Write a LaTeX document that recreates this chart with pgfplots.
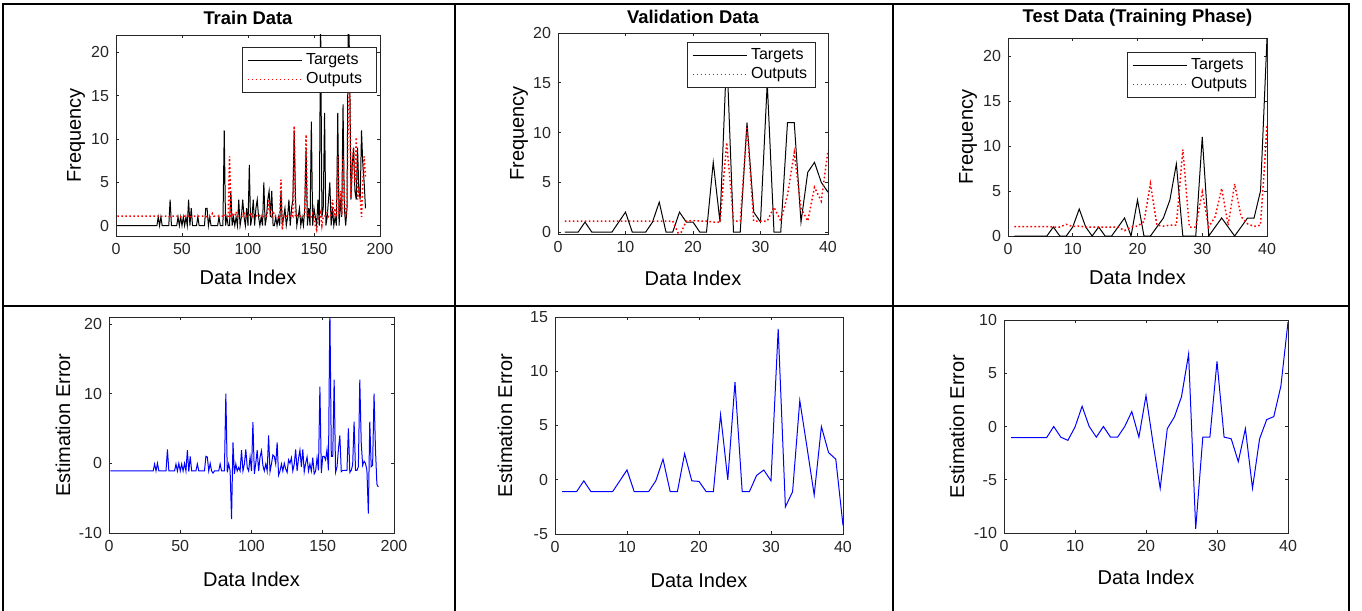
\documentclass[border=0pt]{standalone}
\usepackage{fontspec}
\setmainfont{Liberation Sans}
\usepackage{pgfplots}
\pgfplotsset{compat=1.18}
\usepackage{pgfplotstable}

\definecolor{axgray}{HTML}{262626}

% train set: index, target, output, error
\pgfplotstableread{
i T O E
1 0 1.1 -1.1
2 0 1.1 -1.1
3 0 1.1 -1.1
4 0 1.1 -1.1
5 0 1.1 -1.1
6 0 1.1 -1.1
7 0 1.1 -1.1
8 0 1.1 -1.1
9 0 1.1 -1.1
10 0 1.1 -1.1
11 0 1.1 -1.1
12 0 1.1 -1.1
13 0 1.1 -1.1
14 0 1.1 -1.1
15 0 1.1 -1.1
16 0 1.1 -1.1
17 0 1.1 -1.1
18 0 1.1 -1.1
19 0 1.1 -1.1
20 0 1.1 -1.1
21 0 1.1 -1.1
22 0 1.1 -1.1
23 0 1.1 -1.1
24 0 1.1 -1.1
25 0 1.1 -1.1
26 0 1.1 -1.1
27 0 1.1 -1.1
28 0 1.1 -1.1
29 0 1.1 -1.1
30 0 1.1 -1.1
31 0 1.1 -1.1
32 1 1.1 -0.1
33 0 1.1 -1.1
34 1 1.0 0
35 0 1.1 -1.1
36 0 1.1 -1.1
37 0 1.1 -1.1
38 0 1.1 -1.1
39 0 1.1 -1.1
40 0 1.1 -1.1
41 3 1.0 2.0
42 0 1.1 -1.1
43 0 1.1 -1.1
44 0 1.1 -1.1
45 0 1.1 -1.1
46 0 1.1 -1.1
47 1 1.1 -0.1
48 0 1.1 -1.1
49 1 1.0 0
50 0 1.1 -1.1
51 1 1.1 -0.1
52 0 1.1 -1.1
53 1 1.0 0
54 0 1.1 -1.1
55 3 1.1 1.9
56 0 1.2 -1.2
57 2 1.0 1.0
58 0 1.1 -1.1
59 0 1.1 -1.1
60 0 1.1 -1.1
61 0 1.1 -1.1
62 1 1.1 -0.1
63 0 1.1 -1.1
64 0 1.1 -1.1
65 0 1.1 -1.1
66 0 1.1 -1.1
67 0 1.1 -1.1
68 2 1.0 1.0
69 2 1.1 0.9
70 0 1.1 -1.1
71 1 1.0 0
72 0 1.1 -1.1
73 0 1.4 -1.4
74 0 1.1 -1.1
75 0 1.1 -1.1
76 0 1.1 -1.1
77 0 1.1 -1.1
78 1 1.1 -0.1
79 0 1.1 -1.1
80 0 1.1 -1.1
81 0 1.1 -1.1
82 11 1.0 10.0
83 0 1.3 -1.3
84 1 1.1 -0.1
85 0 1.1 -1.1
86 0 8.0 -8.0
87 4 1.0 3.0
88 0 1.5 -1.5
89 1 1.1 -0.1
90 0 1.1 -1.1
91 1 1.6 -0.6
92 0 1.1 -1.1
93 3 1.1 1.9
94 0 1.1 -1.1
95 1 1.1 -0.1
96 3 1.0 2.0
97 1 1.6 -0.6
98 0 1.1 -1.1
99 2 1.1 0.9
100 0 1.1 -1.1
101 7 1.1 5.9
102 0 1.5 -1.5
103 1 1.0 0
104 3 1.1 1.9
105 0 1.1 -1.1
106 2 1.1 0.9
107 3 1.2 1.8
108 1 1.3 -0.3
109 0 1.1 -1.1
110 1 1.1 -0.1
111 0 1.1 -1.1
112 5 1.0 4.0
113 0 1.2 -1.2
114 1 1.1 -0.1
115 3 1.8 1.2
116 4 3.0 1.0
117 1 1.1 -0.1
118 4 1.0 3.0
119 0 1.7 -1.7
120 0 1.1 -1.1
121 1 1.1 -0.1
122 0 1.1 -1.1
123 1 1.0 0
124 0 0.8 -0.8
125 4 5.3 -1.3
126 0 -0.5 0.5
127 1 1.0 0
128 2 1.2 0.8
129 0 1.1 -1.1
130 1 1.1 -0.1
131 3 1.0 2.0
132 0 1.1 -1.1
133 2 1.3 0.7
134 3 1.1 1.9
135 11 11.5 -0.5
136 3 1.0 2.0
137 0 1.2 -1.2
138 1 1.0 0
139 2 1.1 0.9
140 0 1.1 -1.1
141 1 1.1 -0.1
142 0 1.1 -1.1
143 2 1.2 0.8
144 9 10.5 -1.5
145 0 1.1 -1.1
146 2 1.2 0.8
147 0 1.0 -1.0
148 12 1.0 11.0
149 0 1.4 -1.4
150 2 1.0 1.0
151 1 0.0 1.0
152 0 -0.5 0.5
153 3 1.0 2.0
154 0 1.0 -1.0
155 24 1.5 22.5
156 1 0.0 1.0
157 2 1.0 1.0
158 13 1.0 12.0
159 0 1.3 -1.3
160 1 1.5 -0.5
161 3 1.0 2.0
162 5 1.0 4.0
163 0 1.2 -1.2
164 2 3.0 -1.0
165 0 1.0 -1.0
166 1 2.0 -1.0
167 0 1.0 -1.0
168 13 8.0 5.0
169 0 1.3 -1.3
170 3 4.0 -1.0
171 1 1.2 -0.2
172 14 8.0 6.0
173 2 3.0 -1.0
174 0 1.0 -1.0
175 2 2.5 -0.5
176 25 13.0 12.0
177 19 16.0 3.0
178 3 3.3 -0.3
179 7 6.7 0.3
180 9 9.0 0
181 4 5.0 -1.0
182 3 10.2 -7.2
183 9 3.0 6.0
184 4 4.5 -0.5
185 3 3.3 -0.3
186 11 1.0 10.0
187 7 5.0 2.0
188 5 8.0 -3.0
189 2 5.4 -3.4
}\traindata

\pgfplotstableread{
i T O E
1 0 1.1 -1.1
2 0 1.1 -1.1
3 0 1.1 -1.1
4 1 1.1 -0.1
5 0 1.1 -1.1
6 0 1.1 -1.1
7 0 1.1 -1.1
8 0 1.1 -1.1
9 1 1.1 -0.1
10 2 1.1 0.9
11 0 1.1 -1.1
12 0 1.1 -1.1
13 0 1.1 -1.1
14 1 1.1 -0.1
15 3 1.1 1.9
16 0 1.1 -1.1
17 0 1.1 -1.1
18 2 -0.4 2.4
19 1 1.1 -0.1
20 1 1.15 -0.15
21 0 1.1 -1.1
22 0 1.1 -1.1
23 7 1.0 6.0
24 1 1.0 0.0
25 18 9.0 9.0
26 0 1.1 -1.1
27 0 1.1 -1.1
28 11 10.6 0.4
29 2 1.1 0.9
30 1 1.1 -0.1
31 15 1.1 13.9
32 0 2.5 -2.5
33 0 1.1 -1.1
34 11 3.7 7.3
35 11 8.0 3.0
36 1 2.4 -1.4
37 6 1.1 4.9
38 7 4.5 2.5
39 5 3.1 1.9
40 4 8.2 -4.2
}\valdata

\pgfplotstableread{
i T O E
1 0 1.05 -1.05
2 0 1.05 -1.05
3 0 1.05 -1.05
4 0 1.05 -1.05
5 0 1.05 -1.05
6 0 1.05 -1.05
7 1 1.0 0
8 0 1.0 -1.0
9 0 1.3 -1.3
10 1 1.05 -0.05
11 3 1.1 1.9
12 1 1.0 0
13 0 1.0 -1.0
14 1 1.0 0
15 0 1.0 -1.0
16 0 1.0 -1.0
17 1 1.0 0
18 2 0.6 1.4
19 0 1.0 -1.0
20 4 1.1 2.9
21 0 1.6 -1.6
22 0 5.8 -5.8
23 1 1.2 -0.2
24 2 1.1 0.9
25 4 1.2 2.8
26 8 1.2 6.8
27 0 9.6 -9.6
28 0 1.0 -1.0
29 0 1.0 -1.0
30 11 4.9 6.1
31 0 1.0 -1.0
32 1 2.15 -1.15
33 2 5.3 -3.3
34 1 1.2 -0.2
35 0 5.8 -5.8
36 1 2.15 -1.15
37 2 1.35 0.65
38 2 1.07 0.93
39 5 1.2 3.8
40 22 12.2 9.8
}\testdata

\pgfplotsset{
  panel/.style={
    scale only axis,
    axis line style={axgray, line width=0.4pt},
    tick style={axgray, line width=0.4pt},
    major tick length=1.6pt,
    tick align=inside,
    ticklabel style={font=\fontsize{8}{9}\selectfont, text=axgray},
    label style={font=\fontsize{9.6}{11}\selectfont, text=axgray},
    /pgf/number format/assume math mode=true,
    scaled ticks=false,
    legend style={draw=axgray, line width=0.4pt, fill=white,
      font=\fontsize{8}{9.5}\selectfont, anchor=north east,
      inner xsep=2.5pt, inner ysep=1.5pt, row sep=-0.5pt,
      nodes={inner xsep=1.8pt, inner ysep=1.5pt}, cells={anchor=west}},
    legend image code/.code={\draw[##1] (0pt,0pt) -- (27pt,0pt);},
  },
  ylab/.style={every axis y label/.style={at={([xshift=-#1]axis description cs:0,0.5)}, rotate=90, anchor=center}},
  xlab/.style={every axis x label/.style={at={([yshift=-#1]axis description cs:0.5,0)}, anchor=center}},
  tit/.style={every axis title/.style={at={(axis description cs:0.5,1)}, anchor=center, yshift=#1,
      font=\bfseries\fontsize{9.2}{10}\selectfont}},
  tgt/.style={black, line width=0.5pt, mark=none},
  out/.style={red, line width=0.75pt, dash pattern=on 0.8pt off 1.2pt, mark=none},
  err/.style={blue, line width=0.5pt, mark=none},
}

\begin{document}
\begin{tikzpicture}
\useasboundingbox (0,0) rectangle (681pt,-305.5pt);

% table frame
\draw[line width=1pt] (1.7pt,-306pt) -- (1.7pt,-2.1pt) -- (674.4pt,-2.1pt) -- (674.4pt,-306pt);
\draw[line width=1pt] (227.5pt,-2.1pt) -- (227.5pt,-306pt);
\draw[line width=1pt] (446.4pt,-2.1pt) -- (446.4pt,-306pt);
\draw[line width=1pt] (1.7pt,-153.2pt) -- (674.4pt,-153.2pt);

% Train
\begin{axis}[panel, at={(58pt,-118pt)}, anchor=south west,
  width=132pt, height=100.5pt,
  xmin=0, xmax=200, ymin=-1.2, ymax=22,
  xtick={0,50,...,200}, ytick={0,5,...,20},
  title={Train Data}, xlabel={Data Index}, ylabel={Frequency},
  tit=8.5pt, xlab=20.5pt, ylab=20pt,
  legend style={at={(0.989,0.94)}}]
\addplot[tgt] table[x=i, y=T] {\traindata};
\addplot[out] table[x=i, y=O] {\traindata};
\legend{Targets, Outputs\kern3pt}
\end{axis}

% Validation
\begin{axis}[panel, at={(279pt,-117pt)}, anchor=south west,
  width=135pt, height=100.5pt,
  xmin=0, xmax=40, ymin=-0.2, ymax=20,
  xtick={0,10,...,40}, ytick={0,5,...,20},
  title={Validation Data}, xlabel={Data Index}, ylabel={Frequency},
  tit=8pt, xlab=22pt, ylab=19.5pt,
  legend style={at={(0.956,0.955)}}]
\addplot[tgt] table[x=i, y=T] {\valdata};
\addplot[out] table[x=i, y=O] {\valdata};
\legend{Targets, Outputs}
\end{axis}

% Test
\begin{axis}[panel, at={(504pt,-118pt)}, anchor=south west,
  width=129.5pt, height=99pt,
  xmin=0, xmax=40, ymin=0, ymax=22,
  xtick={0,10,...,40}, ytick={0,5,...,20},
  title={Test Data (Training Phase)}, xlabel={Data Index}, ylabel={Frequency},
  tit=10pt, xlab=20.5pt, ylab=20pt,
  legend style={at={(0.958,0.93)}}]
\addplot[tgt] table[x=i, y=T] {\testdata};
\addplot[out] table[x=i, y=O] {\testdata};
\legend{Targets, Outputs}
\end{axis}

% Train error
\begin{axis}[panel, at={(54.5pt,-266.5pt)}, anchor=south west,
  width=142.5pt, height=108pt,
  xmin=0, xmax=200, ymin=-10, ymax=21,
  xtick={0,50,...,200}, ytick={-10,0,10,20},
  xlabel={Data Index}, ylabel={Estimation Error},
  xlab=23pt, ylab=23pt]
\addplot[err] table[x=i, y=E] {\traindata};
\end{axis}

% Validation error
\begin{axis}[panel, at={(277.5pt,-267pt)}, anchor=south west,
  width=144pt, height=108.5pt,
  xmin=0, xmax=40, ymin=-5, ymax=15,
  xtick={0,10,...,40}, ytick={-5,0,...,15},
  xlabel={Data Index}, ylabel={Estimation Error},
  xlab=23pt, ylab=25pt]
\addplot[err] table[x=i, y=E] {\valdata};
\end{axis}

% Test error
\begin{axis}[panel, at={(502pt,-266.5pt)}, anchor=south west,
  width=142pt, height=106.5pt,
  xmin=0, xmax=40, ymin=-10, ymax=10,
  xtick={0,10,...,40}, ytick={-10,-5,...,10},
  xlabel={Data Index}, ylabel={Estimation Error},
  xlab=22pt, ylab=23.5pt]
\addplot[err] table[x=i, y=E] {\testdata};
\end{axis}
\end{tikzpicture}
\end{document}
